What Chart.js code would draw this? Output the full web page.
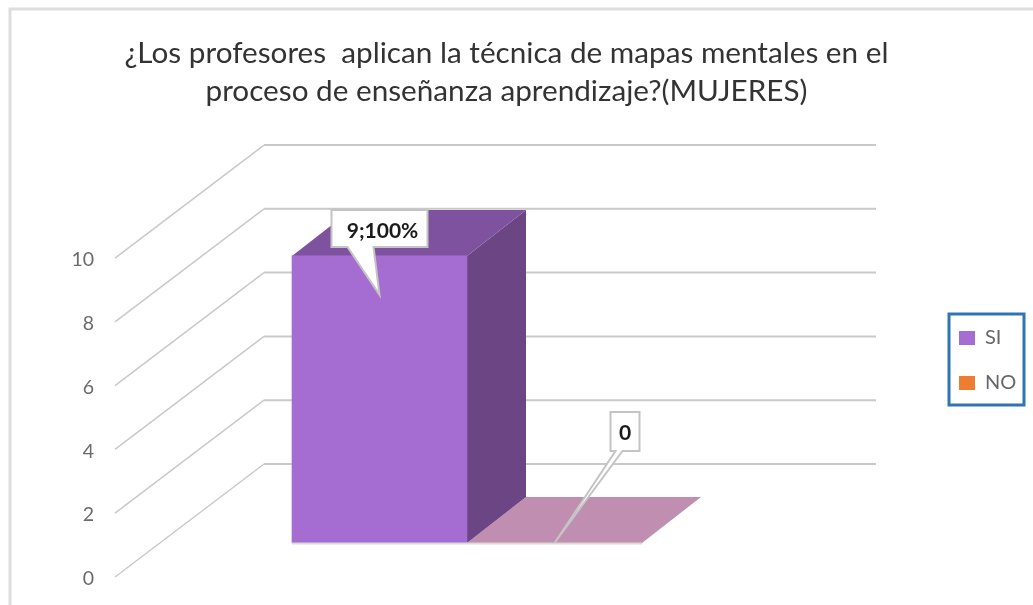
<!DOCTYPE html>
<html>
<head>
<meta charset="utf-8">
<title>Mapas mentales</title>
<style>
  html, body { margin: 0; padding: 0; background: #fff; }
  canvas { display: block; }
</style>
</head>
<body>
<canvas id="grafico" width="1033" height="605"></canvas>
<script src="https://cdn.jsdelivr.net/npm/chart.js@4"></script>
<script>
const categories = ['MUJERES'];
const seriesNames = ['SI', 'NO'];
const siValues = [9];
const noValues = [0];
const calloutTexts = ['9;100%', '0'];
const yTicks = [0, 2, 4, 6, 8, 10];
const titleLines = [
  '¿Los profesores  aplican la técnica de mapas mentales en el',
  'proceso de enseñanza aprendizaje?(MUJERES)'
];

const FONT = 'Lato, "Open Sans", sans-serif';
const GRID = '#c9c9c9';

// how far the back wall sits behind the axis labels
const WALL_X = 149;
const WALL_Y = -113;
const WALL_RIGHT = 876;
// bar depth and where the bars sit on the floor
const DEPTH_X = 59;
const DEPTH_Y = -46;
const SPLIT_X = 467;
const FLOOR_Y = -34;

function shiftX(chart) {
  return SPLIT_X - chart.scales.x.getPixelForValue(0);
}

function box3d(ctx, el, dx, top, side) {
  const left = el.x - el.width / 2 + dx;
  const right = el.x + el.width / 2 + dx;
  const y = el.y + FLOOR_Y;
  const base = el.base + FLOOR_Y;

  ctx.fillStyle = side;
  ctx.beginPath();
  ctx.moveTo(right, y);
  ctx.lineTo(right + DEPTH_X, y + DEPTH_Y);
  ctx.lineTo(right + DEPTH_X, base + DEPTH_Y);
  ctx.lineTo(right, base);
  ctx.closePath();
  ctx.fill();

  ctx.fillStyle = top;
  ctx.beginPath();
  ctx.moveTo(left, y);
  ctx.lineTo(left + DEPTH_X, y + DEPTH_Y);
  ctx.lineTo(right + DEPTH_X, y + DEPTH_Y);
  ctx.lineTo(right, y);
  ctx.closePath();
  ctx.fill();
}

function callout(ctx, text, tipX, tipY, box, baseL, baseR, textDx, textDy) {
  ctx.beginPath();
  ctx.moveTo(box.x, box.y);
  ctx.lineTo(box.x + box.w, box.y);
  ctx.lineTo(box.x + box.w, box.y + box.h);
  ctx.lineTo(box.x + baseR, box.y + box.h);
  ctx.lineTo(tipX, tipY);
  ctx.lineTo(box.x + baseL, box.y + box.h);
  ctx.lineTo(box.x, box.y + box.h);
  ctx.closePath();
  ctx.fillStyle = '#fff';
  ctx.fill();
  ctx.strokeStyle = '#c4c4c4';
  ctx.lineWidth = 2;
  ctx.stroke();

  ctx.fillStyle = '#1a1a1a';
  ctx.font = 'bold 21px ' + FONT;
  ctx.textAlign = 'center';
  ctx.textBaseline = 'middle';
  ctx.fillText(text, box.x + box.w / 2 + textDx, box.y + box.h / 2 + textDy);
}

const grafico3d = {
  id: 'grafico3d',
  afterUpdate(chart) {
    // title is centred on the frame, not on the whole page
    chart.titleBlock.left -= 10;
    chart.titleBlock.right -= 10;
  },
  beforeDraw(chart) {
    const ctx = chart.ctx;

    // legend sits in its own box, beside the chart
    const legend = chart.legend;
    legend.left = 934;
    legend.right = 1033;
    legend.top = 303;
    legend.bottom = 605;

    ctx.save();
    ctx.strokeStyle = '#dedede';
    ctx.lineWidth = 3;
    ctx.beginPath();
    ctx.moveTo(10, 605);
    ctx.lineTo(10, 9);
    ctx.lineTo(1033, 9);
    ctx.stroke();
    ctx.restore();
  },
  beforeDatasetsDraw(chart) {
    const ctx = chart.ctx;
    const y = chart.scales.y;
    const left = chart.chartArea.left;

    ctx.save();
    ctx.strokeStyle = GRID;
    y.ticks.forEach(t => {
      const py = y.getPixelForValue(t.value);
      ctx.lineWidth = 1.5;
      ctx.beginPath();
      ctx.moveTo(left, py);
      ctx.lineTo(left + WALL_X, py + WALL_Y);
      ctx.stroke();
      ctx.lineWidth = 2;
      ctx.beginPath();
      ctx.moveTo(left + WALL_X, py + WALL_Y);
      ctx.lineTo(WALL_RIGHT, py + WALL_Y);
      ctx.stroke();
    });

    const dx = shiftX(chart);
    const no = chart.getDatasetMeta(1).data[0];
    const si = chart.getDatasetMeta(0).data[0];
    box3d(ctx, no, dx, '#bf8eb0', '#bf8eb0');
    box3d(ctx, si, dx, '#7f52a0', '#6b4584');

    ctx.translate(dx, FLOOR_Y);
  },
  afterDatasetsDraw(chart) {
    const ctx = chart.ctx;
    ctx.restore();

    const dx = shiftX(chart);
    const si = chart.getDatasetMeta(0).data[0];
    const no = chart.getDatasetMeta(1).data[0];
    const siTop = si.y + FLOOR_Y;
    const noTop = no.y + FLOOR_Y;

    ctx.save();
    // pale front edge of the floor, also hides the flat NO bar
    ctx.strokeStyle = '#dcd8de';
    ctx.lineWidth = 2;
    ctx.beginPath();
    ctx.moveTo(si.x - si.width / 2 + dx, si.base + FLOOR_Y + 0.5);
    ctx.lineTo(no.x + no.width / 2 + dx, no.base + FLOOR_Y + 0.5);
    ctx.stroke();

    callout(ctx, calloutTexts[0], si.x + dx, siTop + 39,
      { x: si.x + dx - 48, y: siTop - 46, w: 96, h: 37 }, 16, 42, 3, 3);
    callout(ctx, calloutTexts[1], no.x + dx, noTop,
      { x: no.x + dx + 56, y: noTop - 131, w: 29, h: 39 }, 5, 12, 0, 2);

    // frame round the legend
    ctx.strokeStyle = '#2e75b6';
    ctx.lineWidth = 3;
    ctx.strokeRect(949, 314, 75, 91);
    ctx.restore();
  }
};

new Chart(document.getElementById('grafico'), {
  type: 'bar',
  data: {
    labels: categories,
    datasets: [
      { label: seriesNames[0], data: siValues, backgroundColor: '#a56cd2', barThickness: 175, clip: false },
      { label: seriesNames[1], data: noValues, backgroundColor: '#ed7d31', barThickness: 175, clip: false }
    ]
  },
  options: {
    responsive: false,
    animation: false,
    layout: { padding: { top: 0, left: 0, right: 0, bottom: 28 } },
    scales: {
      x: { display: false },
      y: {
        min: 0,
        max: 10,
        afterBuildTicks(scale) {
          scale.ticks = yTicks.map(v => ({ value: v }));
        },
        afterFit(scale) {
          scale.width = 115;
          // tick padding would otherwise eat 32px under the axis
          scale.paddingTop = 0;
          scale.paddingBottom = 0;
        },
        border: { display: false },
        grid: { display: false, drawTicks: false },
        ticks: {
          padding: 21,
          labelOffset: 2,
          color: '#6b6b6b',
          font: { family: FONT, size: 19.5 }
        }
      }
    },
    plugins: {
      tooltip: { enabled: false },
      title: {
        display: true,
        text: titleLines,
        color: '#333333',
        font: { family: FONT, size: 29.7, weight: 'normal', lineHeight: 1.28 },
        padding: { top: 34, bottom: 148 }
      },
      legend: {
        position: 'right',
        align: 'start',
        labels: {
          boxWidth: 16,
          boxHeight: 14,
          padding: 25,
          color: '#666666',
          font: { family: FONT, size: 20 }
        }
      }
    }
  },
  plugins: [grafico3d]
});
</script>
</body>
</html>
